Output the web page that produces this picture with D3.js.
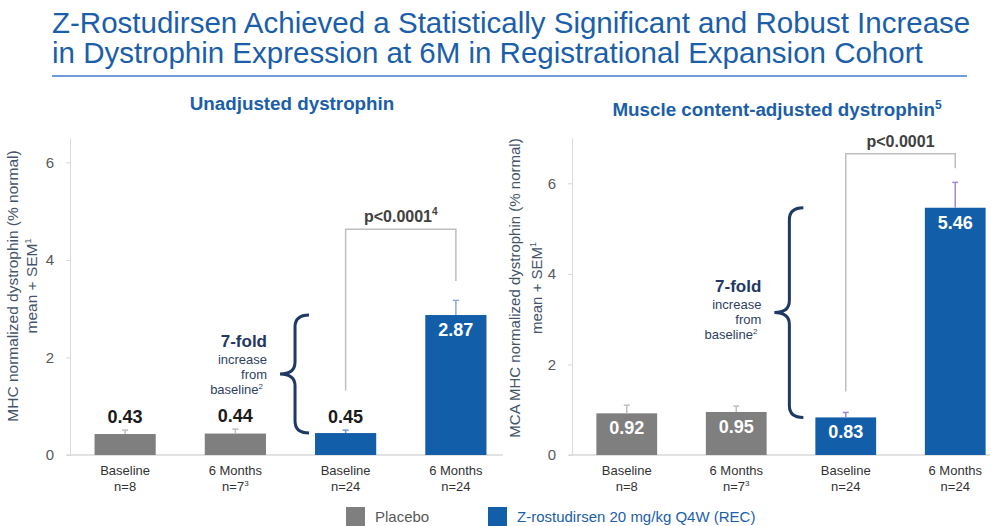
<!DOCTYPE html>
<html>
<head>
<meta charset="utf-8">
<script src="https://cdn.jsdelivr.net/npm/d3@7"></script>
<style>
  body { margin: 0; background: #fff; }
  svg { display: block; font-family: Arial, "Liberation Sans", sans-serif; }
</style>
</head>
<body>
<script>
// data
var groups = ["Baseline", "6 Months", "Baseline", "6 Months"];
var nLabels = ["n=8", "n=7", "n=24", "n=24"];
var nSups = ["", "3", "", ""];
var arms = ["Placebo", "Placebo", "Z-rostudirsen", "Z-rostudirsen"];
var unadjMean = [0.43, 0.44, 0.45, 2.87];
var unadjSemTop = [0.51, 0.53, 0.51, 3.17];
var adjMean = [0.92, 0.95, 0.83, 5.46];
var adjSemTop = [1.10, 1.08, 0.94, 6.02];
var yTicks = [0, 2, 4, 6];
var legendItems = ["Placebo", "Z-rostudirsen 20 mg/kg Q4W (REC)"];

var W = 998, H = 526;
var blue = "#135ea8", gray = "#7f7f7f", navy = "#1f3864", titleBlue = "#1b5ea9";
var armColor = {"Placebo": gray, "Z-rostudirsen": blue};

var svg = d3.select("body").append("svg")
    .attr("width", W)
    .attr("height", H);

// title
var title = svg.append("g").attr("fill", titleBlue).attr("font-size", 29.5);
title.append("text").attr("x", 52).attr("y", 33)
    .text("Z-Rostudirsen Achieved a Statistically Significant and Robust Increase");
title.append("text").attr("x", 52).attr("y", 63)
    .text("in Dystrophin Expression at 6M in Registrational Expansion Cohort");
svg.append("line")
    .attr("x1", 52).attr("x2", 967)
    .attr("y1", 76).attr("y2", 76)
    .attr("stroke", "#6f9bd6").attr("stroke-width", 2);

function brace(x, y1, y2) {
    // x = stem position, ends point right, tip points left
    var w = 14, r = 12, ym = (y1 + y2) / 2;
    return "M" + (x + w) + "," + y1 +
        " Q" + x + "," + y1 + " " + x + "," + (y1 + r) +
        " L" + x + "," + (ym - r) +
        " Q" + x + "," + ym + " " + (x - 15) + "," + ym +
        " Q" + x + "," + ym + " " + x + "," + (ym + r) +
        " L" + x + "," + (y2 - r) +
        " Q" + x + "," + y2 + " " + (x + w) + "," + y2;
}

function drawPanel(p) {
    var g = svg.append("g");

    var x = d3.scaleBand()
        .domain(d3.range(groups.length))
        .range([p.x0, p.x1])
        .paddingInner(0.445)
        .paddingOuter(0.2225);
    var y = d3.scaleLinear().domain([0, p.ymax]).range([455, 138]);

    // subtitle
    var st = g.append("text")
        .attr("x", p.subX).attr("y", p.subY)
        .attr("text-anchor", "middle")
        .attr("font-size", 18.8).attr("font-weight", "bold")
        .attr("fill", titleBlue)
        .text(p.subtitle);
    if (p.subSup)
        st.append("tspan").attr("dy", -7).attr("font-size", 12).text(p.subSup);

    // y axis
    var yAxis = g.append("g")
        .attr("transform", "translate(" + p.x0 + ",0)")
        .call(d3.axisLeft(y).tickValues(yTicks).tickFormat(d3.format("d"))
            .tickSize(4).tickPadding(12).tickSizeOuter(0));
    yAxis.select(".domain").attr("stroke", "#d9d9d9");
    yAxis.selectAll(".tick line").attr("stroke", "#d9d9d9");
    yAxis.selectAll(".tick text")
        .attr("font-size", 15)
        .attr("font-family", "Arial, 'Liberation Sans', sans-serif")
        .attr("fill", "#595959");

    // y axis title
    var yt = g.append("g")
        .attr("transform", "translate(" + p.ytX + "," + p.ytY + ") rotate(-90)")
        .attr("text-anchor", "middle")
        .attr("font-size", p.ytSize)
        .attr("fill", "#44546a");
    yt.append("text").attr("y", 0).text(p.yTitle);
    var l2 = yt.append("text").attr("y", p.ytGap).text("mean + SEM");
    l2.append("tspan").attr("dy", -6).attr("font-size", 9).text("1");

    // baseline
    g.append("line")
        .attr("x1", p.x0 - 3).attr("x2", p.baseEnd)
        .attr("y1", y(0)).attr("y2", y(0))
        .attr("stroke", "#d9d9d9").attr("stroke-width", 1.5);

    // bars
    g.selectAll("rect.bar")
        .data(p.means)
        .enter().append("rect")
        .attr("class", "bar")
        .attr("x", function (d, i) { return x(i); })
        .attr("y", function (d) { return y(d); })
        .attr("width", x.bandwidth())
        .attr("height", function (d) { return y(0) - y(d); })
        .attr("fill", function (d, i) { return armColor[arms[i]]; });

    // error bars
    p.semTop.forEach(function (d, i) {
        var cx = x(i) + x.bandwidth() / 2;
        g.append("line")
            .attr("x1", cx).attr("x2", cx)
            .attr("y1", y(p.means[i])).attr("y2", y(d))
            .attr("stroke", p.errColors[i]).attr("stroke-width", 1.5);
        g.append("line")
            .attr("x1", cx - 3).attr("x2", cx + 3)
            .attr("y1", y(d)).attr("y2", y(d))
            .attr("stroke", p.errColors[i]).attr("stroke-width", 1.5);
    });

    // value labels
    g.selectAll("text.val")
        .data(p.means)
        .enter().append("text")
        .attr("class", "val")
        .attr("x", function (d, i) { return x(i) + x.bandwidth() / 2; })
        .attr("y", function (d, i) {
            return p.inside[i] ? y(d) + 21 : y(p.semTop[i]) - 7;
        })
        .attr("text-anchor", "middle")
        .attr("font-size", 18).attr("font-weight", "bold")
        .attr("fill", function (d, i) { return p.inside[i] ? "#fff" : "#1a1a1a"; })
        .text(function (d) { return d.toFixed(2); });

    // x labels
    groups.forEach(function (name, i) {
        var cx = x(i) + x.bandwidth() / 2;
        g.append("text")
            .attr("x", cx).attr("y", 475)
            .attr("text-anchor", "middle").attr("font-size", 13).attr("fill", "#333")
            .text(name);
        var t = g.append("text")
            .attr("x", cx).attr("y", 491)
            .attr("text-anchor", "middle").attr("font-size", 13).attr("fill", "#333")
            .text(nLabels[i]);
        if (nSups[i])
            t.append("tspan").attr("dy", -5).attr("font-size", 8).text(nSups[i]);
    });

    // p-value bracket between Z baseline and Z 6 months
    var bx1 = x(2) + x.bandwidth() / 2, bx2 = x(3) + x.bandwidth() / 2;
    var by = y(p.bracket[0]);
    g.append("path")
        .attr("d", "M" + bx1 + "," + y(p.bracket[1]) + " L" + bx1 + "," + by +
            " L" + bx2 + "," + by + " L" + bx2 + "," + y(p.bracket[2]))
        .attr("fill", "none").attr("stroke", "#bfbfbf").attr("stroke-width", 1.5);
    var pt = g.append("text")
        .attr("x", (bx1 + bx2) / 2).attr("y", by - 7)
        .attr("text-anchor", "middle")
        .attr("font-size", 16).attr("font-weight", "bold").attr("fill", "#404040")
        .text("p<0.0001");
    if (p.pSup)
        pt.append("tspan").attr("dy", -7).attr("font-size", 10).text(p.pSup);

    // curly brace for fold increase
    var sx = x(2) - p.braceGap;
    var yTop = y(p.means[3]), yBot = y(p.means[2]);
    g.append("path")
        .attr("d", brace(sx, yTop, yBot))
        .attr("fill", "none").attr("stroke", navy).attr("stroke-width", 3);
    var ym = (yTop + yBot) / 2 + p.noteShift;
    var tx = sx - 28;
    g.append("text").attr("x", tx).attr("y", ym - 27)
        .attr("text-anchor", "end").attr("font-size", 17).attr("font-weight", "bold")
        .attr("fill", navy).text("7-fold");
    ["increase", "from", "baseline"].forEach(function (w, k) {
        var t = g.append("text").attr("x", w === "baseline" ? tx - 4 : tx)
            .attr("y", ym - 10 + k * 15)
            .attr("text-anchor", "end").attr("font-size", 13)
            .attr("fill", "#2f3f5f").text(w);
        if (w === "baseline")
            t.append("tspan").attr("dy", -5).attr("font-size", 8).text("2");
    });
}

drawPanel({
    x0: 70, x1: 511, ymax: 6.5, baseEnd: 503,
    means: unadjMean, semTop: unadjSemTop,
    inside: [false, false, false, true],
    errColors: ["#bfbfbf", "#bfbfbf", "#6f9ad6", "#8fa9d6"],
    subtitle: "Unadjusted dystrophin", subSup: "", subX: 292, subY: 110,
    yTitle: "MHC normalized dystrophin (% normal)", ytX: 18, ytY: 286, ytGap: 19, ytSize: 15.5,
    bracket: [4.63, 1.32, 3.57], pSup: "4",
    braceGap: 20, noteShift: 0
});

drawPanel({
    x0: 572, x1: 1010, ymax: 7, baseEnd: 990,
    means: adjMean, semTop: adjSemTop,
    inside: [true, true, true, true],
    errColors: ["#bfbfbf", "#bfbfbf", "#9f86cf", "#a48ad0"],
    subtitle: "Muscle content-adjusted dystrophin", subSup: "5", subX: 777, subY: 116,
    yTitle: "MCA  MHC normalized dystrophin (% normal)", ytX: 520, ytY: 288, ytGap: 22, ytSize: 15,
    bracket: [6.65, 1.40, 6.33], pSup: "",
    braceGap: 26, noteShift: 6
});

// legend
var legend = svg.append("g").attr("font-size", 15);
var legendX = [346, 488];
legendItems.forEach(function (name, i) {
    legend.append("rect")
        .attr("x", legendX[i]).attr("y", 507)
        .attr("width", 19).attr("height", 19)
        .attr("fill", i === 0 ? gray : blue);
    legend.append("text")
        .attr("x", legendX[i] + 29).attr("y", 522)
        .attr("fill", i === 0 ? "#595959" : titleBlue)
        .text(name);
});
</script>
</body>
</html>
